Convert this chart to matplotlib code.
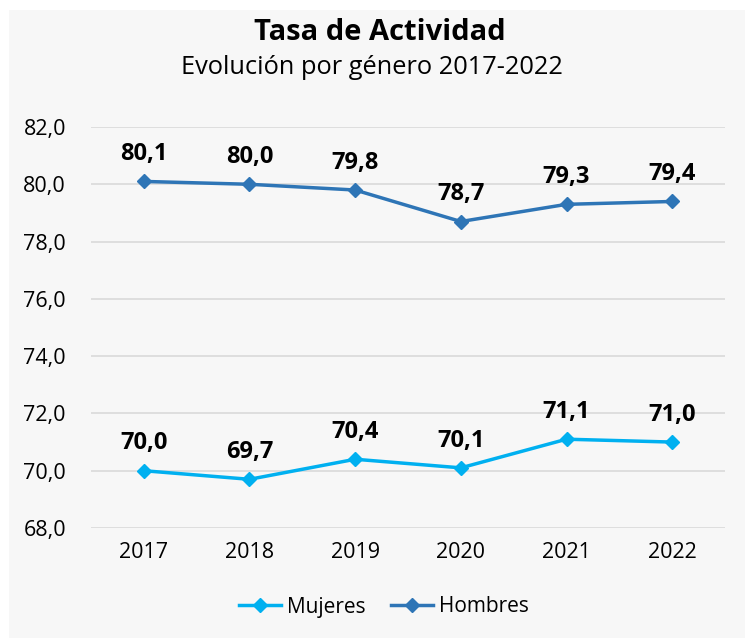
import matplotlib
matplotlib.use("Agg")
import matplotlib.pyplot as plt
from matplotlib.patches import Rectangle

years = ["2017", "2018", "2019", "2020", "2021", "2022"]
mujeres = [70.0, 69.7, 70.4, 70.1, 71.1, 71.0]
hombres = [80.1, 80.0, 79.8, 78.7, 79.3, 79.4]
yticks = [68, 70, 72, 74, 76, 78, 80, 82]

plt.rcParams['font.family'] = ['Open Sans', 'DejaVu Sans']

W, H = 745, 638
fig = plt.figure(figsize=(W/100, H/100), dpi=100)
fig.patch.set_facecolor('white')
bg = Rectangle((9/W, 0), 1 - 9/W, 1 - 10/H, transform=fig.transFigure,
               facecolor='#F7F7F7', edgecolor='none', zorder=-10)
fig.add_artist(bg)

ax = fig.add_axes([91/W, 1 - 528/H, (725-91)/W, (528-127)/H])
ax.set_zorder(1)
ax.set_facecolor('none')
x = list(range(len(years)))
c_m = '#00B0F0'
c_h = '#2E75B6'
ax.plot(x, mujeres, color=c_m, lw=2.5, marker='D', ms=7, label='Mujeres', zorder=3)
ax.plot(x, hombres, color=c_h, lw=2.5, marker='D', ms=7, label='Hombres', zorder=3)

for xi, v in zip(x, mujeres):
    ax.annotate(f"{v:.1f}".replace('.', ','), (xi, v), xytext=(0, 11), textcoords='offset points',
                ha='center', va='bottom', fontsize=17, fontweight='bold', color='black')
for xi, v in zip(x, hombres):
    ax.annotate(f"{v:.1f}".replace('.', ','), (xi, v), xytext=(0, 11), textcoords='offset points',
                ha='center', va='bottom', fontsize=17, fontweight='bold', color='black')

ax.set_xlim(-0.5, len(years) - 0.5)
ax.set_ylim(68, 82)
ax.set_yticks(yticks)
ax.set_yticklabels([f"{t:.1f}".replace('.', ',') for t in yticks], fontsize=15.5)
ax.set_xticks(x)
ax.set_xticklabels(years, fontsize=15.5)
ax.tick_params(length=0, pad=10)
ax.tick_params(axis='y', pad=18)
ax.grid(axis='y', color='#D9D9D9', lw=1.2)
ax.set_axisbelow(True)
for s in ax.spines.values():
    s.set_visible(False)

fig.text(380/W, 1 - 32/H, "Tasa de Actividad", ha='center', va='center', fontsize=21, fontweight='bold')
fig.text(372/W, 1 - 68/H, "Evolución por género 2017-2022", ha='center', va='center', fontsize=18.3)

leg = fig.legend(loc='center', bbox_to_anchor=(384/W, 1 - 607/H), ncol=2, frameon=False,
                 fontsize=15, handlelength=2.0, columnspacing=1.2, handletextpad=0.3)

fig.savefig("out.png", dpi=100, facecolor=fig.get_facecolor())
